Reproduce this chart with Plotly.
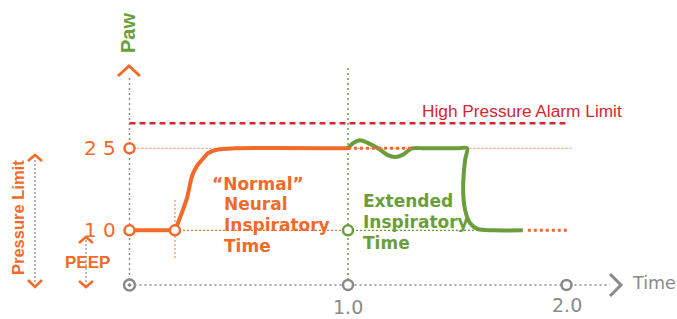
import plotly.graph_objects as go

# ---------------- data ----------------
orange_x = [0.0, 0.208, 0.231, 0.263, 0.286, 0.309, 0.332, 0.359, 0.405, 0.483, 1.0]
orange_y = [10, 10, 12.3, 15.9, 19.9, 21.8, 22.9, 24.1, 24.8, 25, 25]
green_x = [1.0, 1.025, 1.055, 1.09, 1.137, 1.18, 1.215, 1.25, 1.293, 1.35, 1.50, 1.545,
           1.536, 1.527, 1.536, 1.559, 1.595, 1.664, 1.80]
green_y = [25, 26.0, 26.5, 26.0, 25, 23.8, 23.4, 23.8, 25, 25, 25, 25,
           22.9, 17.4, 13.7, 11.3, 10.2, 10, 10]
peep = 10
pressure_limit = 25
alarm_limit = 29.6
insp_start = 0.208
insp_end_normal = 1.0
tick_vals = [1.0, 2.0]
tick_text = ["1.0", "2.0"]

ORANGE = "#f26a2a"
LORANGE = "#f6a27c"
GREEN = "#6a9e3b"
RED = "#d6262f"
GRAY = "#8a8a8a"

# pixel -> data helpers (for decorations only)
X0, XS = 129.5, 218.5
Y0, YS = 285.0, 82 / 15
XMIN, XMAX = -X0 / XS, (677 - X0) / XS
YMAX, YMIN = Y0 / YS, -(319 - Y0) / YS


def px(x):
    return (x - X0) / XS


def py(y):
    return (Y0 - y) / YS


fig = go.Figure()


def line(xs, ys, color, width, dash="solid", shape="linear", smoothing=1.0):
    fig.add_trace(go.Scatter(x=xs, y=ys, mode="lines",
                             line=dict(color=color, width=width, dash=dash, shape=shape,
                                       smoothing=smoothing),
                             hoverinfo="skip", showlegend=False))


# axes (dotted gray)
line([0, 0], [0, py(77)], GRAY, 1.5, "2px,3px")
line([0, px(610)], [0, 0], GRAY, 1.5, "2px,3px")
# vertical guides
line([insp_end_normal, insp_end_normal], [0, py(65)], GREEN, 1.5, "2px,3px")
line([insp_start, insp_start], [py(200), py(258)], LORANGE, 1.5, "2px,2px")
# alarm limit
line([0, px(566)], [alarm_limit, alarm_limit], RED, 2.5, "6px,4px")
# thin reference lines
line([0, px(572)], [pressure_limit, pressure_limit], LORANGE, 1.2, "2px,2px")
line([insp_start, insp_end_normal], [peep, peep], ORANGE, 1.2, "2px,2px")
line([insp_end_normal, 1.6], [peep, peep], GREEN, 1.2, "2px,2px")

# curves
line(orange_x[:2], orange_y[:2], ORANGE, 4)
line(orange_x[1:], orange_y[1:], ORANGE, 4, shape="spline", smoothing=0.8)
line(green_x, green_y, GREEN, 4, shape="spline", smoothing=0.8)
# dotted continuation of normal curve
line([1.0, 1.293], [pressure_limit, pressure_limit], ORANGE, 3, "3px,3px")
line([1.823, 2.006], [peep, peep], ORANGE, 3, "3px,3px")

# markers
fig.add_trace(go.Scatter(x=[0, 0, insp_start], y=[pressure_limit, peep, peep], mode="markers",
                         marker=dict(symbol="circle", size=10, color="white",
                                     line=dict(color=ORANGE, width=2.5)),
                         hoverinfo="skip", showlegend=False))
fig.add_trace(go.Scatter(x=[insp_end_normal], y=[peep], mode="markers",
                         marker=dict(symbol="circle", size=10, color="white",
                                     line=dict(color=GREEN, width=2.5)),
                         hoverinfo="skip", showlegend=False))
fig.add_trace(go.Scatter(x=tick_vals, y=[0, 0], mode="markers",
                         marker=dict(symbol="circle", size=10, color="white",
                                     line=dict(color=GRAY, width=2.5)),
                         hoverinfo="skip", showlegend=False))
fig.add_trace(go.Scatter(x=[0], y=[0], mode="markers",
                         marker=dict(symbol="circle-dot", size=11, color="white",
                                     line=dict(color=GRAY, width=2.5)),
                         hoverinfo="skip", showlegend=False))

# arrow heads
line([px(118), px(129), px(140)], [py(76), py(66), py(76)], ORANGE, 3)
line([px(610), px(621), px(610)], [py(274), py(285), py(296)], GRAY, 3)
# Pressure Limit bracket
line([px(35), px(35)], [py(160), py(282)], GRAY, 1.2, "2px,2px")
line([px(28), px(35), px(42)], [py(161), py(155), py(161)], ORANGE, 2.5)
line([px(28), px(35), px(42)], [py(280), py(287), py(280)], ORANGE, 2.5)
# PEEP bracket
line([px(86), px(86)], [py(240), py(282)], GRAY, 1.2, "2px,2px")
line([px(79), px(86), px(93)], [py(243), py(237), py(243)], ORANGE, 2.5)
line([px(79), px(86), px(93)], [py(281), py(287), py(281)], ORANGE, 2.5)

BOLD = "DejaVu Sans"
LIB = "Liberation Sans, Arial, sans-serif"
ann = []


def text(t, x, y, color, size, xanchor="center", yanchor="middle", angle=0,
         family=BOLD, weight="bold"):
    ann.append(dict(text=t, x=x, y=y, xref="x", yref="y", showarrow=False,
                    xanchor=xanchor, yanchor=yanchor, textangle=angle,
                    font=dict(family=family, size=size, color=color, weight=weight)))


text("Paw", px(128), py(33), GREEN, 20, angle=-90, family=LIB)
text("2 5", px(118), pressure_limit, ORANGE, 20, xanchor="right", weight="normal")
text("1 0", px(118), peep, ORANGE, 20, xanchor="right", weight="normal")
text("Pressure Limit", px(18), py(218), ORANGE, 16.5, angle=-90, family=LIB)
text("PEEP", px(87), py(262), ORANGE, 17, family=LIB)
text("High Pressure Alarm Limit", px(420), py(111), RED, 17.3, xanchor="left",
     family=LIB, weight="normal")
text("“Normal”", px(210), py(184), ORANGE, 17, xanchor="left")
text("Neural", px(222), py(204), ORANGE, 17, xanchor="left")
text("Inspiratory", px(222), py(225), ORANGE, 17, xanchor="left")
text("Time", px(222), py(246), ORANGE, 17, xanchor="left")
text("Extended", px(361), py(201), GREEN, 17, xanchor="left")
text("Inspiratory", px(361), py(222), GREEN, 17, xanchor="left")
text("Time", px(361), py(243), GREEN, 17, xanchor="left")
text(tick_text[0], tick_vals[0], py(307), GRAY, 19, weight="normal")
text(tick_text[1], tick_vals[1], py(305), GRAY, 19, weight="normal")
text("Time", px(630), py(283), GRAY, 17.5, xanchor="left", weight="normal")

fig.update_layout(
    width=677, height=319, margin=dict(l=0, r=0, t=0, b=0),
    paper_bgcolor="white", plot_bgcolor="white",
    xaxis=dict(range=[XMIN, XMAX], visible=False, fixedrange=True),
    yaxis=dict(range=[YMIN, YMAX], visible=False, fixedrange=True),
    annotations=ann, showlegend=False,
)

fig.write_html("out.html", config={"displayModeBar": False},
               post_script="document.body.style.margin='0';document.body.style.overflow='hidden';")
